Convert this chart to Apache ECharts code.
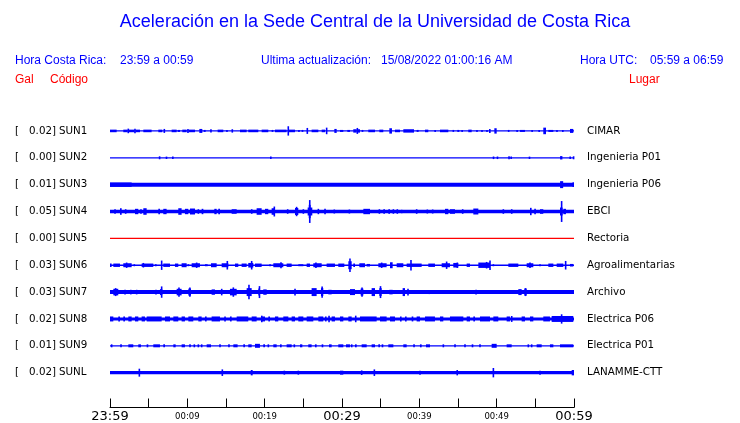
<!DOCTYPE html>
<html><head><meta charset="utf-8">
<script src="https://cdn.jsdelivr.net/npm/echarts@6/dist/echarts.min.js"></script>
<style>html,body{margin:0;padding:0;background:#fff}#c{width:740px;height:423px}</style>
</head><body><div id="c"></div>
<script>
// ---------------- DATA ----------------
const codes = ['SUN1','SUN2','SUN3','SUN4','SUN5','SUN6','SUN7','SUN8','SUN9','SUNL'];
const places = ['CIMAR','Ingenieria P01','Ingenieria P06','EBCI','Rectoria','Agroalimentarias','Archivo','Electrica P06','Electrica P01','LANAMME-CTT'];
const galValues = ['0.02','0.00','0.01','0.05','0.00','0.03','0.03','0.02','0.01','0.02'];
// minutes after 23:59 (0..60)
const tickLabels = ['23:59','','00:09','','00:19','','00:29','','00:39','','00:49','','00:59'];
// background (noise) half-amplitude of each trace
const baseAmp = [0.65, 0.65, 2.0, 1.8, 0.65, 0.65, 2.0, 1.5, 0.65, 1.7];
// bursts: [startMinute, endMinute, halfAmplitude]
const sun1 = [[0,0.86,1.3],[1.72,2.28,1.3],[2.28,2.45,2.3],[2.45,3.14,1.3],[3.14,3.32,2.3],[3.32,3.88,1.3],[4.31,5.38,1.3],[6.25,6.76,1.3],[6.94,7.11,2],[7.97,8.62,1.3],[8.75,9.05,1],[9.35,9.91,1.3],[10.04,10.13,2],[10.21,10.99,1.3],[11.55,11.94,2],[12.11,12.37,1],[12.97,13.14,1.7],[13.92,14.65,1.3],[15.04,15.21,1],[15.73,15.9,1.7],[16.81,17.67,1.3],[17.88,19.18,1.3],[19.61,20.47,1.3],[20.9,21.12,1],[21.33,22.84,1.3],[23.01,23.1,4.7],[23.14,23.92,1.3],[24.35,24.52,1],[24.78,25.0,1],[25.43,25.6,3],[26.07,26.94,1.3],[27.37,27.8,1.3],[27.97,28.06,3.3],[29.01,29.31,2],[29.74,30.17,1],[30.69,31.03,1],[31.46,31.9,1.7],[31.9,32.07,3],[32.07,32.33,1.7],[32.54,32.76,1],[33.4,34.27,1.3],[34.83,35.34,1.3],[36.12,36.46,2.7],[36.85,37.5,1.3],[37.93,39.31,1.7],[39.65,39.91,1],[40.73,41.16,1.3],[41.94,42.15,1],[42.67,43.75,1.3],[44.31,44.48,1],[44.91,45.17,1],[45.47,45.6,1],[46.33,46.77,1.3],[47.41,47.5,1],[48.06,48.15,1],[48.71,48.79,1],[49.05,49.18,2],[49.7,50.0,2.7],[51.51,51.59,1],[52.58,52.71,1],[53.02,53.66,1],[54.52,54.65,1],[55.39,55.6,1],[56.03,56.38,3.3],[56.68,57.33,1],[57.76,57.84,1],[58.49,58.62,1],[59.48,59.91,2]];
const sun2 = [[6.38,6.45,1.5],[7.28,7.33,1.2],[8.1,8.15,1.3],[20.77,20.82,1.2],[49.57,49.62,1.3],[50.08,50.13,1.3],[51.5,51.7,1.5],[51.85,51.9,1.3],[54.22,54.27,1.2],[58.2,58.5,1.7],[59.48,59.53,1.2],[59.9,60,1.5]];
const sun3 = [[0,2.8,2.2],[58.2,58.6,3.5],[59.8,60,2.3]];
const sun4 = [[0.62,0.68,2.3],[1.29,1.51,3.3],[2.0,2.05,2.3],[3.23,3.66,2.7],[3.98,4.03,2.3],[4.31,4.74,3.3],[6.25,6.46,2.7],[6.89,7.32,2.7],[8.83,9.26,3.3],[9.69,10.13,2.7],[10.34,10.99,3],[11.4,11.45,2.3],[11.85,12.07,2.7],[13.49,13.79,2.7],[14.0,14.22,2.7],[15.73,16.38,2.3],[18.3,18.35,2.3],[18.96,19.61,3.3],[20.04,20.47,2.7],[20.9,21.33,3.3],[21.22,21.28,5],[22.95,23.0,2.3],[23.92,24.35,3.5],[24.1,24.16,4.7],[24.98,25.03,2.3],[25.56,26.16,4],[25.7,25.95,6.7],[25.8,25.86,11.5],[26.92,26.97,2.7],[27.78,27.83,2.7],[28.98,29.03,2],[30.93,30.98,2],[32.76,33.62,2.7],[34.81,34.86,2.3],[35.34,35.56,2.3],[35.99,36.21,2.3],[36.62,36.67,2.3],[37.13,37.18,2.3],[37.69,37.74,1.7],[39.63,39.68,2.3],[41.01,41.06,2],[41.7,41.75,2],[43.32,43.75,2.7],[43.96,44.61,2.3],[45.58,45.63,2.3],[46.98,47.63,3],[50.84,50.89,2.3],[51.92,51.97,2.3],[54.31,54.52,3.7],[54.94,54.99,2.7],[55.6,56.03,2.3],[58.19,58.53,4],[58.35,58.45,10.5],[58.62,58.96,2.7]];
const sun5 = [];
const sun6 = [[0,0.21,1.7],[0.43,1.29,1.7],[1.72,2.8,2],[2.12,2.18,2.7],[3.12,3.17,1],[4.09,5.6,1.7],[4.29,4.34,2.3],[5.82,6.03,1],[6.65,6.71,4.7],[6.89,7.76,1.7],[8.4,8.83,1.7],[9.26,9.91,2],[10.11,10.16,1],[10.56,11.63,2],[11.18,11.23,2.7],[12.28,12.63,1],[13.06,13.79,2],[14.44,15.3,2],[15.14,15.2,4.3],[16.16,16.59,1.7],[17.02,17.67,1.7],[17.88,18.53,2.3],[18.29,18.35,4.3],[18.75,19.61,1.7],[20.67,20.72,1],[21.12,22.41,2],[22.08,22.14,3],[22.84,23.49,1.7],[24.35,25.0,1],[25.43,25.86,1.7],[26.29,27.37,2],[26.6,26.66,2.7],[28.01,29.09,1.7],[29.52,30.3,1.7],[30.82,31.25,4],[31.0,31.06,6.7],[31.46,31.68,1.7],[32.24,32.97,2],[33.19,33.62,1.3],[34.7,35.77,2],[35.1,35.16,2.7],[36.21,36.55,3],[37.07,37.93,2],[38.36,40.3,1.7],[38.89,38.95,5.3],[41.16,42.02,1.7],[42.89,43.96,2],[43.5,43.56,3.7],[44.39,45.04,2.3],[44.88,44.94,2.7],[46.12,46.55,1.7],[47.63,49.14,2.7],[48.67,48.73,3.3],[49.11,49.17,4.7],[49.55,49.6,1],[51.51,52.8,1.7],[53.88,54.74,2],[54.28,54.34,2.7],[55.58,55.63,1],[56.68,57.33,1.7],[57.76,58.62,1.7],[58.89,58.95,4.3],[59.48,59.91,1.3]];
const sun7 = [[0.43,1.07,3.3],[0.7,0.76,4],[1.92,1.97,2.3],[2.58,2.8,2.3],[3.42,3.47,2.3],[5.92,5.97,2.3],[6.46,6.76,3],[6.65,6.71,5.7],[8.62,9.26,3.3],[8.89,8.95,4.7],[10.13,10.47,3.5],[10.3,10.36,4.7],[13.14,13.57,2.7],[14.42,14.47,3.3],[15.51,16.38,3.3],[15.92,15.98,4.7],[17.67,18.32,4],[17.94,18.0,7.3],[19.18,19.39,3.5],[19.3,19.36,6],[19.82,20.26,2.7],[23.9,23.95,3.3],[26.07,26.72,4],[27.28,27.58,4],[27.4,27.46,5.7],[28.23,28.66,2.3],[31.03,31.68,3],[32.41,32.76,3.5],[32.56,32.62,4.7],[33.83,34.27,4],[34.83,35.13,4],[34.95,35.01,6],[36.12,36.55,2.3],[37.84,38.15,4],[38.51,38.56,3.3],[41.27,41.32,2],[44.59,44.64,2],[47.31,47.36,2.3],[52.8,53.23,3],[53.58,53.88,3.5],[53.7,53.76,4],[55.58,55.63,2]];
const sun8 = [[0,0.43,2.5],[1.07,1.29,2.5],[1.72,1.94,2.5],[2.37,2.8,2.5],[3.23,3.66,2.5],[4.09,4.52,2.5],[4.74,6.68,2.5],[7.11,7.76,2.5],[8.19,8.83,2.5],[9.26,9.69,2.5],[10.13,10.77,2.5],[11.42,11.85,2.5],[12.28,12.5,2.5],[13.14,14.22,2.5],[14.85,14.9,2.5],[15.51,15.73,2.5],[16.38,17.88,2.5],[18.32,18.96,2.5],[19.61,20.04,2.5],[19.6,19.65,3.3],[20.47,20.69,2.5],[21.33,21.76,2.5],[22.41,23.06,2.5],[23.49,23.92,2.5],[24.35,25.0,2.5],[25.43,26.29,2.5],[26.94,27.58,2.5],[27.8,28.01,2.5],[28.3,28.35,3.3],[28.66,29.09,2.5],[29.74,30.17,2.5],[30.82,31.25,2.5],[31.75,31.8,3.3],[32.33,34.48,2.5],[34.91,35.77,2.5],[36.21,36.85,2.5],[37.5,37.71,2.5],[38.15,38.36,2.5],[39.01,39.22,2.5],[39.65,40.08,2.5],[40.73,42.02,2.5],[42.67,43.1,2.5],[43.96,45.69,2.5],[46.12,46.55,2.5],[46.98,47.2,2.5],[47.84,49.14,2.5],[49.57,50.21,2.5],[51.29,51.72,2.5],[51.92,51.97,3],[53.23,53.66,2.5],[54.31,54.74,2.5],[56.03,56.89,2.5],[57.11,59.91,3],[58.37,58.43,4.7]];
const sun9 = [[0.19,0.24,1.5],[1.4,1.45,1.5],[2.37,3.01,1.5],[3.66,4.0,1.5],[4.74,4.95,1.5],[5.6,6.46,1.5],[6.89,7.11,1.5],[8.19,8.49,1.5],[9.26,9.69,1.5],[10.32,10.37,1.5],[10.88,10.93,1.5],[11.4,11.45,1.5],[11.83,11.88,1.5],[12.5,13.06,1.5],[14.2,14.25,1.5],[15.36,15.41,1.5],[15.95,16.5,1.5],[17.24,17.45,1.5],[17.88,18.32,1.5],[18.75,19.39,2],[19.82,20.04,1.5],[20.45,20.5,1.5],[21.12,21.55,1.5],[21.98,22.2,1.5],[22.84,23.49,1.5],[23.81,23.86,1.5],[24.57,24.87,1.5],[25.64,26.07,1.5],[26.5,26.72,1.5],[27.37,27.58,1.5],[28.32,28.66,1.5],[29.52,30.17,1.5],[30.52,31.03,1.5],[31.23,31.28,1.5],[31.68,31.9,1.5],[32.54,33.19,1.5],[33.83,34.27,1.5],[34.7,34.91,1.5],[35.13,35.34,1.5],[35.99,36.64,1.5],[37.93,38.36,1.5],[39.29,39.34,1.5],[40.08,40.3,1.5],[40.86,41.38,1.5],[43.08,43.13,1.5],[44.59,44.64,1.5],[45.88,45.93,1.5],[46.77,46.98,1.5],[47.82,47.87,1.5],[49.35,50.0,2],[51.29,51.94,1.5],[54.07,54.12,1.5],[54.5,54.55,1.5],[55.17,55.82,1.5],[56.89,57.33,1.5],[58.19,59.91,1.5]];
const sunl = [[3.77,3.82,4],[14.5,14.55,3.3],[18.2,18.45,2.7],[22.52,22.57,2],[24.33,24.38,2],[29.74,30.17,2],[32.52,32.57,2.3],[34.16,34.21,3.3],[40.06,40.11,2],[44.8,45.0,2.7],[49.55,49.6,4.7],[55.58,55.63,2],[59.7,60,2.7]];
const traceBursts = [sun1, sun2, sun3, sun4, sun5, sun6, sun7, sun8, sun9, sunl];

// ---------------- LAYOUT / STYLE ----------------
const ROW0 = 15, ROWSTEP = 27, YMAX = 293;
const BLUE = '#0000ff', RED = '#ff0000';
const RED_STATIONS = ['SUN5'];
const MAJOR_LABELS = ['23:59','00:29','00:59'];
const HFONT = '"Liberation Sans", Arial, sans-serif';
const LFONT = '"DejaVu Sans", sans-serif';

const traceData = [];
codes.forEach((c, i) => {
  traceData.push([i, 0, 60, baseAmp[i]]);
  traceBursts[i].forEach(b => traceData.push([i, b[0], b[1], b[2]]));
});
const labelData = codes.map((c, i) => [i]);

const chart = echarts.init(document.getElementById('c'), null, {renderer: 'canvas'});
chart.setOption({
  animation: false,
  backgroundColor: '#ffffff',
  grid: {left: 110, right: 166, top: 116, bottom: 14, containLabel: false},
  xAxis: {
    type: 'value', min: 0, max: 60, interval: 5, position: 'bottom',
    axisLine: {show: true, onZero: false, lineStyle: {color: '#000', width: 1}},
    axisTick: {show: true, inside: true, length: 9, lineStyle: {color: '#000', width: 1}},
    splitLine: {show: false},
    axisLabel: {
      margin: 2,
      formatter: v => {
        const s = tickLabels[Math.round(v / 5)] || '';
        if (!s) return '';
        return MAJOR_LABELS.includes(s) ? '{big|' + s + '}' : '{small|' + s + '}';
      },
      rich: {
        big: {fontFamily: LFONT, fontSize: 13, color: '#000', lineHeight: 14},
        small: {fontFamily: LFONT, fontSize: 8.5, color: '#000', lineHeight: 14}
      }
    }
  },
  yAxis: {type: 'value', min: 0, max: YMAX, inverse: true, show: false},
  graphic: [
    {type: 'text', x: 375, y: 22, style: {text: 'Aceleración en la Sede Central de la Universidad de Costa Rica', fill: BLUE, font: '18px ' + HFONT, align: 'center', verticalAlign: 'middle'}},
    {type: 'text', x: 15, y: 61, style: {text: 'Hora Costa Rica:', fill: BLUE, font: '12px ' + HFONT, verticalAlign: 'middle'}},
    {type: 'text', x: 120, y: 61, style: {text: '23:59 a 00:59', fill: BLUE, font: '12px ' + HFONT, verticalAlign: 'middle'}},
    {type: 'text', x: 261, y: 61, style: {text: 'Ultima actualización:', fill: BLUE, font: '12px ' + HFONT, verticalAlign: 'middle'}},
    {type: 'text', x: 381, y: 61, style: {text: '15/08/2022 01:00:16 AM', fill: BLUE, font: '12px ' + HFONT, verticalAlign: 'middle'}},
    {type: 'text', x: 580, y: 61, style: {text: 'Hora UTC:', fill: BLUE, font: '12px ' + HFONT, verticalAlign: 'middle'}},
    {type: 'text', x: 650, y: 61, style: {text: '05:59 a 06:59', fill: BLUE, font: '12px ' + HFONT, verticalAlign: 'middle'}},
    {type: 'text', x: 15, y: 80, style: {text: 'Gal', fill: RED, font: '12px ' + HFONT, verticalAlign: 'middle'}},
    {type: 'text', x: 50, y: 80, style: {text: 'Código', fill: RED, font: '12px ' + HFONT, verticalAlign: 'middle'}},
    {type: 'text', x: 629, y: 80, style: {text: 'Lugar', fill: RED, font: '12px ' + HFONT, verticalAlign: 'middle'}}
  ],
  series: [
    {
      type: 'custom',
      clip: false,
      data: traceData,
      encode: {x: [1, 2]},
      renderItem: (params, api) => {
        const row = api.value(0), t0 = api.value(1), t1 = api.value(2), a = api.value(3);
        const yc = ROW0 + row * ROWSTEP;
        const p0 = api.coord([t0, yc - a]);
        const p1 = api.coord([t1, yc + a]);
        let x = p0[0], w = p1[0] - p0[0];
        if (w < 1.6) { x = (p0[0] + p1[0]) / 2 - 0.8; w = 1.6; }
        let y = p0[1], h = p1[1] - p0[1];
        if (h < 1.3) { y = (p0[1] + p1[1]) / 2 - 0.65; h = 1.3; }
        const color = RED_STATIONS.includes(codes[row]) ? RED : BLUE;
        return {type: 'rect', shape: {x: x, y: y, width: w, height: h}, style: {fill: color}};
      }
    },
    {
      type: 'custom',
      clip: false,
      data: labelData,
      encode: {x: -1},
      renderItem: (params, api) => {
        const row = api.value(0);
        const yc = api.coord([0, ROW0 + row * ROWSTEP])[1];
        const f = '10.3px ' + LFONT;
        return {type: 'group', children: [
          {type: 'text', x: 15, y: yc, style: {text: '[', fill: '#000', font: f, verticalAlign: 'middle'}},
          {type: 'text', x: 56, y: yc, style: {text: galValues[row] + ']', fill: '#000', font: f, align: 'right', verticalAlign: 'middle'}},
          {type: 'text', x: 59, y: yc, style: {text: codes[row], fill: '#000', font: f, verticalAlign: 'middle'}},
          {type: 'text', x: 587, y: yc, style: {text: places[row], fill: '#000', font: f, verticalAlign: 'middle'}}
        ]};
      }
    }
  ]
});
</script>
</body></html>
